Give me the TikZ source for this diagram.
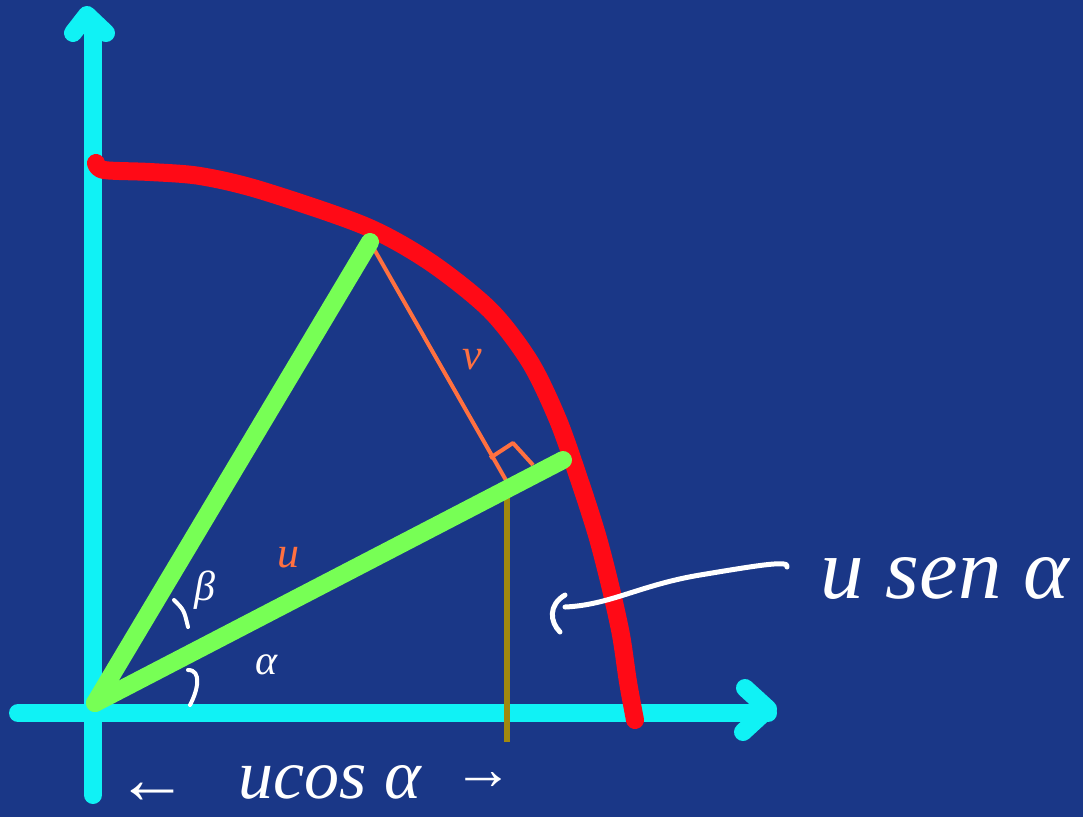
\documentclass[tikz,border=0pt]{standalone}
\usepackage{fontspec}
\setmainfont{Liberation Serif}
\definecolor{bgblue}{HTML}{1A3787}
\definecolor{axiscyan}{HTML}{10F2F5}
\definecolor{curvered}{HTML}{FF0A16}
\definecolor{vecgreen}{HTML}{77FF55}
\definecolor{perporange}{HTML}{FF7040}
\definecolor{projolive}{HTML}{A0880F}
\tikzset{
  axis/.style={axiscyan, line width=18pt, line cap=round, line join=round},
  curve/.style={curvered, line width=18pt, line cap=round, line join=round},
  vec/.style={vecgreen, line width=18pt, line cap=round},
  perp/.style={perporange, line width=4pt, line join=round},
  proj/.style={projolive, line width=6pt},
  hand/.style={white, line width=5pt, line cap=round, line join=round},
  lab/.style={inner sep=0pt, text=white}
}
\begin{document}
\begin{tikzpicture}[x=1pt, y=-1pt]
\fill[bgblue] (0,0) rectangle (1083,817);
\useasboundingbox (0,0) rectangle (1083,817);

\coordinate (O) at (95,703);
\coordinate (A) at (370,242);
\coordinate (B) at (563,460);
\coordinate (F) at (507,482);
\coordinate (P) at (507,742);

\draw[axis] (18,713) -- (768,713);
\draw[axis] (745,688) -- (768,709) -- (743,732);
\draw[axis] (93,795) -- (93,22);
\draw[axis] (73,33) -- (87,15) -- (106,33);

\draw[curve] plot[smooth] coordinates {(96,163) (104,170) (150,172) (200,176) (260,190) (365,226) (430,262) (490,310) (530,362) (558,420) (580,482) (597,535) (610,585) (621,635) (628,682) (635,720)};

\draw[proj] (F) -- (P);
\draw[perp] (A) -- (F);
\draw[perp] (490,458) -- (513,443) -- (533,465);
\draw[vec] (O) -- (A);
\draw[vec] (O) -- (B);

\draw[hand, line width=4pt] (174,600) .. controls (184,610) .. (188,627);
\draw[hand, line width=4pt] (188,670) .. controls (202,670) and (198,690) .. (190,705);
\draw[hand] (787,567) .. controls (790,560) and (760,565) .. (700,575) .. controls (640,585) and (610,605) .. (565,607);
\draw[hand] (565,595) .. controls (548,605) and (550,622) .. (560,632);

\node[lab, text=perporange, font=\fontsize{44}{44}\selectfont\itshape] (vlab) at (472,360) {v};
\node[lab, text=perporange, font=\fontsize{44}{44}\selectfont\itshape] (ulab) at (288,558) {u};
\node[lab, font=\fontsize{42}{42}\selectfont\itshape] (betalab) at (205,590) {β};
\node[lab, font=\fontsize{42}{42}\selectfont\itshape] (alphalab) at (267,665) {α};
\node[lab, font=\fontsize{87}{87}\selectfont\itshape] (senlab) at (945,578) {u sen α};
\node[lab, font=\fontsize{72}{72}\selectfont\bfseries] (larrow) at (152,793) {←};
\node[lab, font=\fontsize{70}{70}\selectfont\itshape] (coslab) at (330,782) {ucos α};
\node[lab, font=\fontsize{60}{60}\selectfont\bfseries] (rarrow) at (483,781) {→};
\end{tikzpicture}
\end{document}
